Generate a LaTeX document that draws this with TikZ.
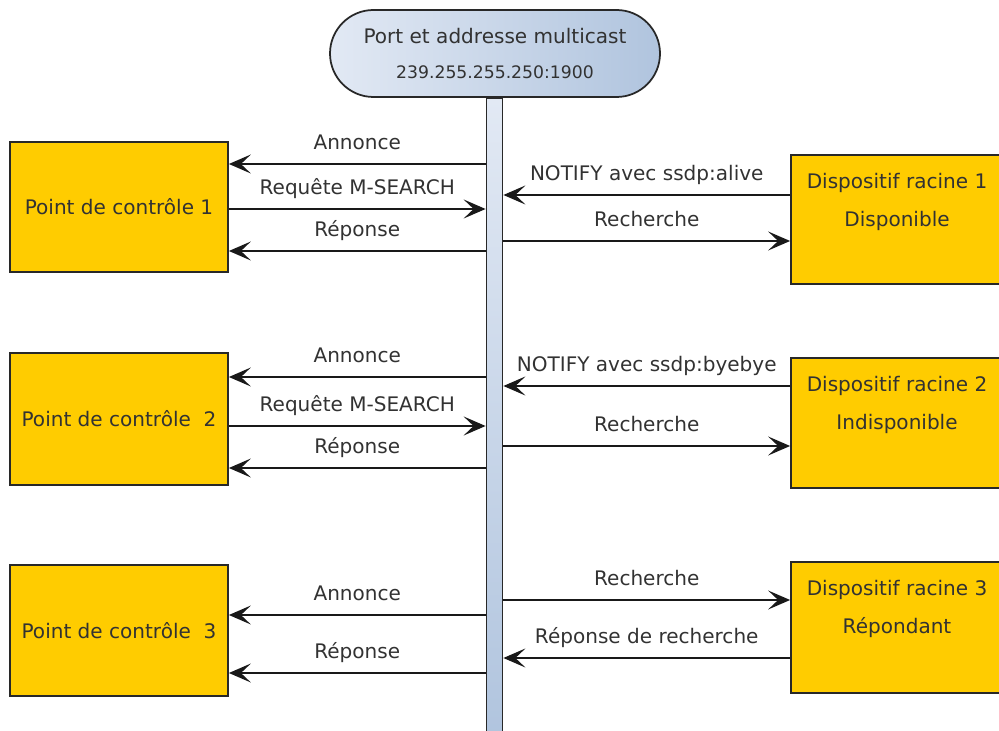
\documentclass[tikz,border=0pt]{standalone}
\usepackage{fontspec}
\setmainfont{DejaVu Sans}
\usetikzlibrary{arrows.meta}

\definecolor{boxgold}{RGB}{255,204,0}
\definecolor{barlight}{RGB}{226,233,244}
\definecolor{bardark}{RGB}{176,196,222}
\definecolor{inkgray}{RGB}{40,40,40}
\definecolor{textgray}{RGB}{50,50,50}

\tikzset{
	pcbox/.style={draw=inkgray, line width=1pt, fill=boxgold, text=textgray, minimum width=4.36cm},
	devbox/.style={draw=inkgray, line width=1pt, fill=boxgold, minimum width=4.24cm},
	devtext/.style={anchor=north, yshift=-0.38cm, align=center, inner sep=0pt, text=textgray, font=\fontsize{11.4}{21.6}\selectfont},
	msg/.style={line width=1.1pt, draw=black!90, -{Stealth[length=0.44cm, width=0.38cm, inset=0.2cm]}},
	lbl/.style={above=0.28cm, inner sep=0pt, text depth=0pt, text=textgray},
}

\begin{document}
\begin{tikzpicture}[font=\fontsize{11.4}{13.7}\selectfont]
			%%%%% START %%%%%
			\useasboundingbox (0, 0) rectangle (19.98, -14.62);
			
			% multicast bus
			\node[anchor=north, draw=inkgray, line width=1pt, top color=barlight, bottom color=bardark, minimum width=0.32cm, minimum height=12.9cm, inner sep=0pt] (bar) at (9.89, -1.94) {};
			\node[draw=inkgray, line width=1pt, rounded corners=0.87cm, left color=barlight, right color=bardark, minimum width=6.6cm, minimum height=1.74cm, align=center, text=textgray, font=\fontsize{11.4}{19.6}\selectfont] (mcast) at (9.9, -1.07) {Port et addresse multicast\\{\fontsize{9.8}{19.6}\selectfont 239.255.255.250:1900}};
			
			% control points
			\node[pcbox, minimum height=2.6cm] (pc1) at (2.38, -4.14) {Point de contrôle 1};
			\node[pcbox, minimum height=2.64cm] (pc2) at (2.38, -8.38) {Point de contrôle\ \ 2};
			\node[pcbox, minimum height=2.62cm] (pc3) at (2.38, -12.61) {Point de contrôle\ \ 3};
			
			% root devices
			\node[devbox, minimum height=2.58cm, label={[devtext]north:{Dispositif racine 1\\Disponible}}] (dr1) at (17.94, -4.39) {};
			\node[devbox, minimum height=2.6cm, label={[devtext]north:{Dispositif racine 2\\Indisponible}}] (dr2) at (17.94, -8.46) {};
			\node[devbox, minimum height=2.62cm, label={[devtext]north:{Dispositif racine 3\\Répondant}}] (dr3) at (17.94, -12.55) {};
			
			% group 1
			\draw[msg] (bar.west |- 0, -3.28) -- node[lbl] {Annonce} (pc1.east |- 0, -3.28);
			\draw[msg] (pc1.east |- 0, -4.18) -- node[lbl] {Requête M-SEARCH} (bar.west |- 0, -4.18);
			\draw[msg] (bar.west |- 0, -5.02) -- node[lbl] {Réponse} (pc1.east |- 0, -5.02);
			\draw[msg] (dr1.west |- 0, -3.9) -- node[lbl] {NOTIFY avec ssdp:alive} (bar.east |- 0, -3.9);
			\draw[msg] (bar.east |- 0, -4.82) -- node[lbl] {Recherche} (dr1.west |- 0, -4.82);
			
			% group 2
			\draw[msg] (bar.west |- 0, -7.54) -- node[lbl] {Annonce} (pc2.east |- 0, -7.54);
			\draw[msg] (pc2.east |- 0, -8.52) -- node[lbl] {Requête M-SEARCH} (bar.west |- 0, -8.52);
			\draw[msg] (bar.west |- 0, -9.36) -- node[lbl] {Réponse} (pc2.east |- 0, -9.36);
			\draw[msg] (dr2.west |- 0, -7.72) -- node[lbl] {NOTIFY avec ssdp:byebye} (bar.east |- 0, -7.72);
			\draw[msg] (bar.east |- 0, -8.92) -- node[lbl] {Recherche} (dr2.west |- 0, -8.92);
			
			% group 3
			\draw[msg] (bar.west |- 0, -12.3) -- node[lbl] {Annonce} (pc3.east |- 0, -12.3);
			\draw[msg] (bar.west |- 0, -13.46) -- node[lbl] {Réponse} (pc3.east |- 0, -13.46);
			\draw[msg] (bar.east |- 0, -12.0) -- node[lbl] {Recherche} (dr3.west |- 0, -12.0);
			\draw[msg] (dr3.west |- 0, -13.16) -- node[lbl] {Réponse de recherche} (bar.east |- 0, -13.16);
			
			%%%%% END %%%%%
\end{tikzpicture}
\end{document}
